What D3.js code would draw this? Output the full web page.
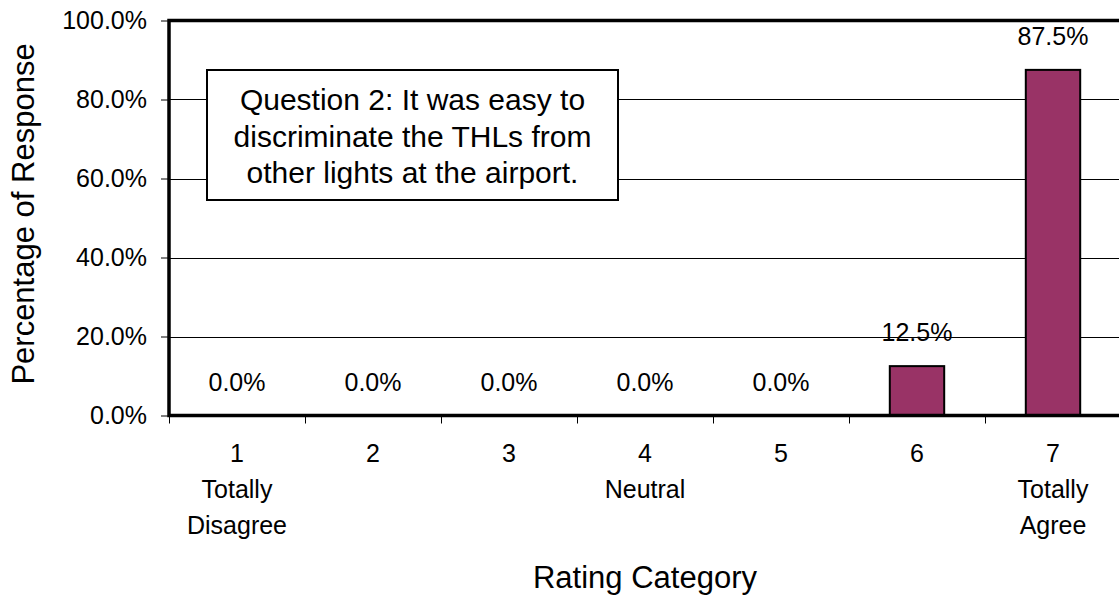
<!DOCTYPE html>
<html>
<head>
<meta charset="utf-8">
<script src="https://cdn.jsdelivr.net/npm/d3@7"></script>
<style>
  html, body { margin: 0; padding: 0; background: #fff; }
  svg { display: block; font-family: Arial, "Liberation Sans", sans-serif; }
</style>
</head>
<body>
<svg id="chart" width="1119" height="598"></svg>
<script>
// Rating categories and the share of responses in each
const categories = ["1", "2", "3", "4", "5", "6", "7"];
const responseShare = [0.0, 0.0, 0.0, 0.0, 0.0, 0.125, 0.875];
const categoryNotes = [["Totally", "Disagree"], [], [], ["Neutral"], [], [], ["Totally", "Agree"]];
const yTicks = [0, 0.2, 0.4, 0.6, 0.8, 1.0];
const questionLines = [
  "Question 2: It was easy to",
  "discriminate the THLs from",
  "other lights at the airport."
];

const svg = d3.select("#chart");
const margin = { left: 169, top: 20.5, right: 1121, bottom: 415.5 };
const FONT = "Arial, 'Liberation Sans', sans-serif";

const x = d3.scaleBand()
  .domain(categories)
  .range([margin.left, margin.right])
  .paddingInner(0.6)
  .paddingOuter(0.3);

const y = d3.scaleLinear()
  .domain([0, 1])
  .range([margin.bottom, margin.top]);

const pct = d3.format(".1%");

// horizontal gridlines
svg.append("g")
  .selectAll("line")
  .data(yTicks.filter(t => t > 0 && t < 1))
  .join("line")
  .attr("x1", margin.left)
  .attr("x2", margin.right)
  .attr("y1", d => Math.round(y(d)) + 0.5)
  .attr("y2", d => Math.round(y(d)) + 0.5)
  .attr("stroke", "#000")
  .attr("stroke-width", 1);

// y axis ticks and labels
const yAxis = d3.axisLeft(y)
  .tickValues(yTicks)
  .tickFormat(pct)
  .tickSize(8)
  .tickPadding(14);
const yg = svg.append("g")
  .attr("transform", `translate(${margin.left},0)`)
  .call(yAxis);
yg.select(".domain").remove();
yg.selectAll(".tick line").attr("stroke", "#000");
yg.selectAll(".tick text")
  .attr("font-size", 25)
  .attr("font-family", FONT)
  .attr("fill", "#000");

// x axis tick marks at category boundaries
const bounds = d3.range(categories.length + 1)
  .map(i => margin.left + i * (margin.right - margin.left) / categories.length);
svg.append("g")
  .selectAll("line")
  .data(bounds)
  .join("line")
  .attr("x1", d => Math.round(d) + 0.5)
  .attr("x2", d => Math.round(d) + 0.5)
  .attr("y1", margin.bottom)
  .attr("y2", margin.bottom + 8)
  .attr("stroke", "#000");

// bars
const rows = categories.map((c, i) => ({ c, v: responseShare[i] }));
svg.append("g")
  .selectAll("rect")
  .data(rows.filter(d => d.v > 0))
  .join("rect")
  .attr("x", d => x(d.c))
  .attr("width", x.bandwidth())
  .attr("y", d => y(d.v))
  .attr("height", d => y(0) - y(d.v))
  .attr("fill", "#993366")
  .attr("stroke", "#000")
  .attr("stroke-width", 2);

// value labels
svg.append("g")
  .selectAll("text")
  .data(rows)
  .join("text")
  .attr("x", d => x(d.c) + x.bandwidth() / 2)
  .attr("y", d => y(d.v) - 25)
  .attr("text-anchor", "middle")
  .attr("font-size", 25)
  .text(d => pct(d.v));

// plot frame
svg.append("path")
  .attr("d", `M${margin.right},${margin.top}H${margin.left}V${margin.bottom}H${margin.right}`)
  .attr("fill", "none")
  .attr("stroke", "#000")
  .attr("stroke-width", 3.5);

// category labels
const catLabels = svg.append("g")
  .selectAll("text")
  .data(categories.map((c, i) => ({ c, notes: categoryNotes[i] })))
  .join("text")
  .attr("text-anchor", "middle")
  .attr("font-size", 25);
catLabels.each(function (d) {
  const t = d3.select(this);
  const cx = x(d.c) + x.bandwidth() / 2;
  [d.c, ...d.notes].forEach((line, k) => {
    t.append("tspan")
      .attr("x", cx)
      .attr("y", 462 + k * 36)
      .text(line);
  });
});

// axis titles
svg.append("text")
  .attr("x", 645)
  .attr("y", 588)
  .attr("text-anchor", "middle")
  .attr("font-size", 31)
  .text("Rating Category");

svg.append("text")
  .attr("transform", `translate(34,214) rotate(-90)`)
  .attr("text-anchor", "middle")
  .attr("font-size", 31)
  .text("Percentage of Response");

// question text box
const box = svg.append("g");
box.append("rect")
  .attr("x", 207)
  .attr("y", 70)
  .attr("width", 411)
  .attr("height", 130)
  .attr("fill", "#fff")
  .attr("stroke", "#000")
  .attr("stroke-width", 2);
box.append("text")
  .attr("text-anchor", "middle")
  .attr("font-size", 30)
  .selectAll("tspan")
  .data(questionLines)
  .join("tspan")
  .attr("x", 412.5)
  .attr("y", (d, i) => 110 + i * 36.5)
  .text(d => d);
</script>
</body>
</html>
